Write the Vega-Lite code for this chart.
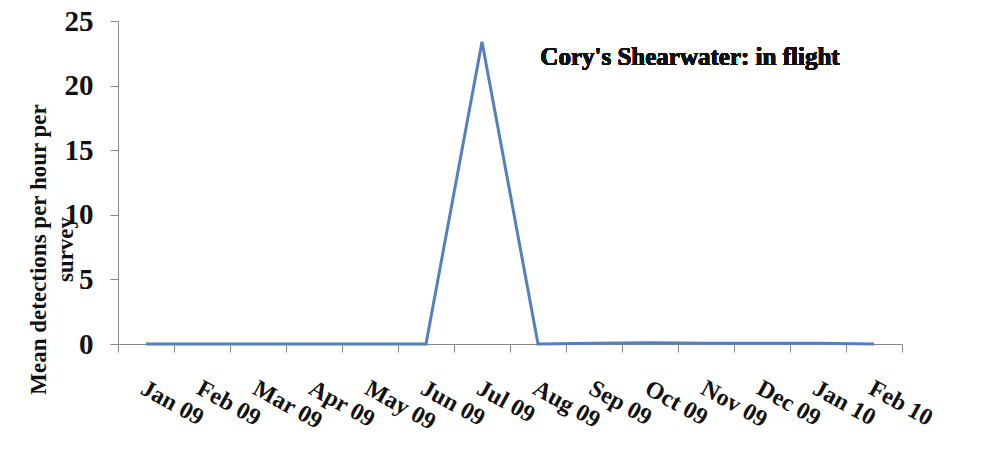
{
  "$schema": "https://vega.github.io/schema/vega-lite/v6.json",
  "width": 784,
  "height": 323,
  "autosize": {"type": "none"},
  "padding": {"left": 118, "top": 21, "right": 83, "bottom": 107},
  "background": "white",
  "config": {
    "view": {"stroke": null},
    "font": "Liberation Serif"
  },
  "data": {
    "values": [
      {"month": "Jan 09", "value": 0},
      {"month": "Feb 09", "value": 0},
      {"month": "Mar 09", "value": 0},
      {"month": "Apr 09", "value": 0},
      {"month": "May 09", "value": 0},
      {"month": "Jun 09", "value": 0},
      {"month": "Jul 09", "value": 23.4},
      {"month": "Aug 09", "value": 0},
      {"month": "Sep 09", "value": 0.05},
      {"month": "Oct 09", "value": 0.1},
      {"month": "Nov 09", "value": 0.05},
      {"month": "Dec 09", "value": 0.05},
      {"month": "Jan 10", "value": 0.05},
      {"month": "Feb 10", "value": 0}
    ]
  },
  "layer": [
    {
      "mark": {"type": "line", "color": "#5580bd", "strokeWidth": 3},
      "encoding": {
        "x": {
          "field": "month",
          "type": "ordinal",
          "sort": null,
          "scale": {"type": "band", "paddingInner": 0, "paddingOuter": 0},
          "axis": {
            "title": null,
            "domainColor": "#888888",
            "tickColor": "#888888",
            "tickSize": 8,
            "tickBand": "extent",
            "labelAngle": 29,
            "labelAlign": "left",
            "labelBaseline": "top",
            "labelPadding": 24,
            "labelOffset": 2,
            "labelFont": "Liberation Serif",
            "labelFontWeight": "bold",
            "labelFontSize": 24,
            "labelColor": "#111111",
            "labelOverlap": false,
            "grid": false
          }
        },
        "y": {
          "field": "value",
          "type": "quantitative",
          "scale": {"domain": [0, 25], "nice": false},
          "axis": {
            "values": [0, 5, 10, 15, 20, 25],
            "grid": false,
            "domainColor": "#888888",
            "tickColor": "#888888",
            "tickSize": 8,
            "labelPadding": 17,
            "labelFont": "Liberation Serif",
            "labelFontWeight": "bold",
            "labelFontSize": 29,
            "labelColor": "#111111",
            "title": ["Mean detections per hour per", "survey"],
            "titleFont": "Liberation Serif",
            "titleFontWeight": "bold",
            "titleFontSize": 23,
            "titleColor": "#111111",
            "titleAngle": -90,
            "titleAlign": "center",
            "titleBaseline": "top",
            "titleLineHeight": 27,
            "titleX": -91,
            "titleY": 228
          }
        }
      }
    },
    {
      "mark": {
        "type": "text",
        "text": "Cory's Shearwater: in flight",
        "font": "Liberation Serif",
        "fontWeight": "bold",
        "fontSize": 25,
        "color": "#111111",
        "align": "center",
        "baseline": "middle",
        "dx": -16
      },
      "encoding": {
        "x": {"datum": "Nov 09", "type": "ordinal"},
        "y": {"datum": 22.2, "type": "quantitative"}
      }
    }
  ]
}
